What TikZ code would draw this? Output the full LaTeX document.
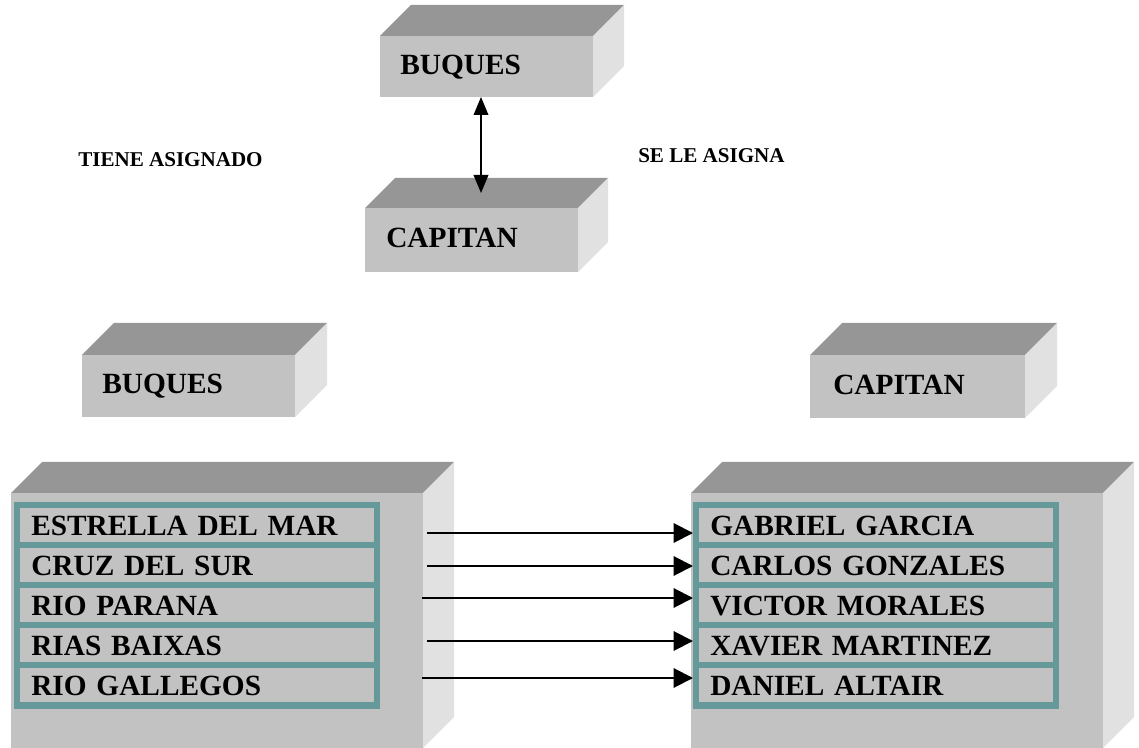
\documentclass[tikz,border=0pt]{standalone}
\usepackage{fontspec}
\setmainfont{Liberation Serif}
\usepackage{tikz}
\usetikzlibrary{arrows.meta}
\definecolor{topgray}{RGB}{150,150,150}
\definecolor{frontgray}{RGB}{194,194,194}
\definecolor{sidegray}{RGB}{225,225,225}
\definecolor{listteal}{RGB}{102,153,153}
\tikzset{
  boxlabel/.style={anchor=base west, inner sep=0pt, font=\bfseries\fontsize{22}{26}\selectfont},
  relname/.style={anchor=base west, inner sep=0pt, font=\bfseries\fontsize{15.8}{18}\selectfont},
  listframe/.style={fill=listteal, anchor=north west, inner sep=0pt, minimum width=274.5pt, minimum height=155.25pt},
  listrow/.style={fill=frontgray, anchor=north west, inner xsep=8.25pt, inner ysep=0pt, text width=249pt,
    minimum height=25.5pt, text height=15pt, text depth=0pt, align=left, font=\bfseries\fontsize{22}{26}\selectfont},
  link/.style={line width=1.5pt, -{Triangle[length=14.5pt,width=14.5pt]}},
  bothlink/.style={line width=1.1pt, {Triangle[length=13.5pt,width=11pt]}-{Triangle[length=13.5pt,width=11pt]}},
}

\begin{document}
\begin{tikzpicture}[x=0.75pt,y=0.75pt,yscale=-1,xscale=1]
\path[use as bounding box] (0,0) rectangle (1139,748);

%Shape: Cube BUQUES (top)
\fill[topgray] (380,36) -- (411,5) -- (624,5) -- (593,36) -- cycle;
\fill[sidegray] (593,36) -- (624,5) -- (624,66) -- (593,97) -- cycle;
\fill[frontgray] (380,36) rectangle (593,97);
%Shape: Cube CAPITAN (top)
\fill[topgray] (365,208) -- (395,178) -- (608,178) -- (578,208) -- cycle;
\fill[sidegray] (578,208) -- (608,178) -- (608,242) -- (578,272) -- cycle;
\fill[frontgray] (365,208) rectangle (578,272);

%Shape: Cube BUQUES
\fill[topgray] (82,355) -- (114,323) -- (327,323) -- (295,355) -- cycle;
\fill[sidegray] (295,355) -- (327,323) -- (327,385) -- (295,417) -- cycle;
\fill[frontgray] (82,355) rectangle (295,417);
%Shape: Cube CAPITAN
\fill[topgray] (810,355) -- (842,323) -- (1057,323) -- (1025,355) -- cycle;
\fill[sidegray] (1025,355) -- (1057,323) -- (1057,386) -- (1025,418) -- cycle;
\fill[frontgray] (810,355) rectangle (1025,418);

%Shape: Cube list of ships
\fill[topgray] (11,493) -- (42,462) -- (454,462) -- (423,493) -- cycle;
\fill[sidegray] (423,493) -- (454,462) -- (454,717) -- (423,748) -- cycle;
\fill[frontgray] (11,493) rectangle (423,748);
%Shape: Cube list of captains
\fill[topgray] (691,493) -- (722,462) -- (1134,462) -- (1103,493) -- cycle;
\fill[sidegray] (1103,493) -- (1134,462) -- (1134,717) -- (1103,748) -- cycle;
\fill[frontgray] (691,493) rectangle (1103,748);

% Text Node
\node[boxlabel] (buqA) at (400,75) {BUQUES};
\node[boxlabel] (capA) at (386,248) {CAPITAN};
\node[boxlabel] (buqB) at (102,394) {BUQUES};
\node[boxlabel] (capB) at (833,395) {CAPITAN};
\node[relname] (tiene) at (78,167) {TIENE ASIGNADO};
\node[relname] (asigna) at (638,163) {SE LE ASIGNA};

%Straight Lines: relation
\coordinate (buqBot) at (481,97);
\coordinate (capTop) at (481,193);
\draw[bothlink] (buqBot) -- (capTop);

% List frames
\node[listframe] (lframe) at (14,502) {};
\node[listframe] (rframe) at (693,502) {};

% Ships
\node[listrow] (s1) at (20,508) {ESTRELLA DEL MAR};
\node[listrow] (s2) at (20,548) {CRUZ DEL SUR};
\node[listrow] (s3) at (20,588) {RIO PARANA};
\node[listrow] (s4) at (20,628) {RIAS BAIXAS};
\node[listrow] (s5) at (20,668) {RIO GALLEGOS};

% Captains
\node[listrow] (c1) at (699,508) {GABRIEL GARCIA};
\node[listrow] (c2) at (699,548) {CARLOS GONZALES};
\node[listrow] (c3) at (699,588) {VICTOR MORALES};
\node[listrow] (c4) at (699,628) {XAVIER MARTINEZ};
\node[listrow] (c5) at (699,668) {DANIEL ALTAIR};

%Straight Lines: assignments
\coordinate (a1) at (427,533);
\coordinate (a2) at (427,566);
\coordinate (a3) at (422,598);
\coordinate (a4) at (427,641);
\coordinate (a5) at (422,678);
\draw[link] (a1) -- (a1 -| rframe.west);
\draw[link] (a2) -- (a2 -| rframe.west);
\draw[link] (a3) -- (a3 -| rframe.west);
\draw[link] (a4) -- (a4 -| rframe.west);
\draw[link] (a5) -- (a5 -| rframe.west);
\end{tikzpicture}
\end{document}
